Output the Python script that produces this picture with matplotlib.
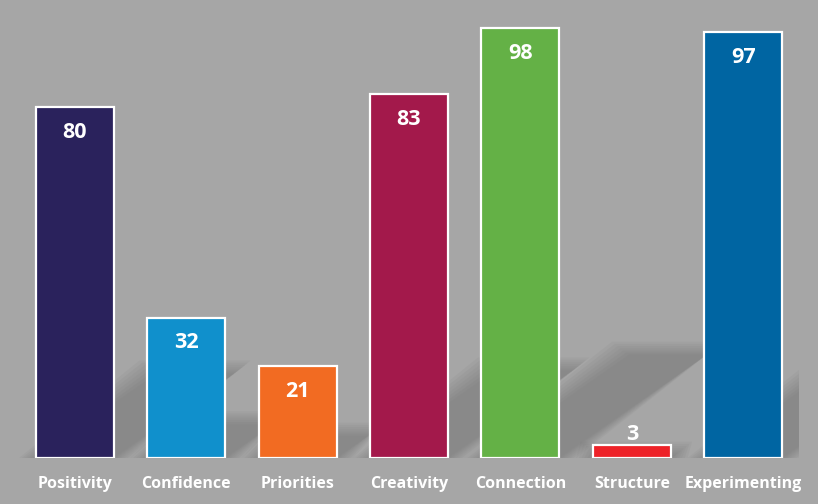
import numpy as np
import matplotlib.pyplot as plt
from matplotlib.patches import Polygon

# data
categories = ['Positivity', 'Confidence', 'Priorities', 'Creativity',
              'Connection', 'Structure', 'Experimenting']
values = [80, 32, 21, 83, 98, 3, 97]
colors = ['#2a225c', '#1090cc', '#f26b22', '#a3194b',
          '#64b146', '#ed2228', '#0065a2']

bg = '#a6a6a6'
plt.rcParams['font.family'] = ['Open Sans', 'DejaVu Sans']

fig = plt.figure(figsize=(8.18, 5.04), dpi=100, facecolor=bg)
ax = fig.add_axes([19 / 818, 46 / 504, 780 / 818, 439 / 504])
ax.set_facecolor(bg)

x = np.arange(len(categories))
w = 0.70

# soft perspective shadows behind the bars
for xi, v in zip(x, values):
    hs = v * 0.24
    dx = v * 0.0135
    for k in range(7):
        grow = k * 0.025
        poly = Polygon([(xi - w / 2 - grow, 0), (xi + w / 2 + grow, 0),
                        (xi + w / 2 + dx + grow, hs + grow * 20),
                        (xi - w / 2 + dx - grow, hs + grow * 20)],
                       closed=True, facecolor='#5a5a5a', edgecolor='none',
                       alpha=0.06, zorder=1)
        ax.add_patch(poly)

ax.bar(x, values, width=w, color=colors, edgecolor='white',
       linewidth=1.6, zorder=3)

for xi, v in zip(x, values):
    if v > 10:
        ax.text(xi, v - 5.8, str(v), ha='center', va='center', color='white',
                fontsize=15.5, fontweight='bold', zorder=4)
    else:
        ax.text(xi, v + 2.4, str(v), ha='center', va='center', color='white',
                fontsize=15.5, fontweight='bold', zorder=4)

# category labels on a common baseline
for xi, c in zip(x, categories):
    ax.text(xi, -6.9, c, ha='center', va='baseline', color='white',
            fontsize=11.5, fontweight='bold', clip_on=False)

ax.set_xlim(-0.5, len(categories) - 0.5)
ax.set_ylim(0, 100)
ax.set_xticks([])
ax.set_yticks([])
for s in ax.spines.values():
    s.set_visible(False)

fig.savefig('out.png', dpi=100, facecolor=bg)
